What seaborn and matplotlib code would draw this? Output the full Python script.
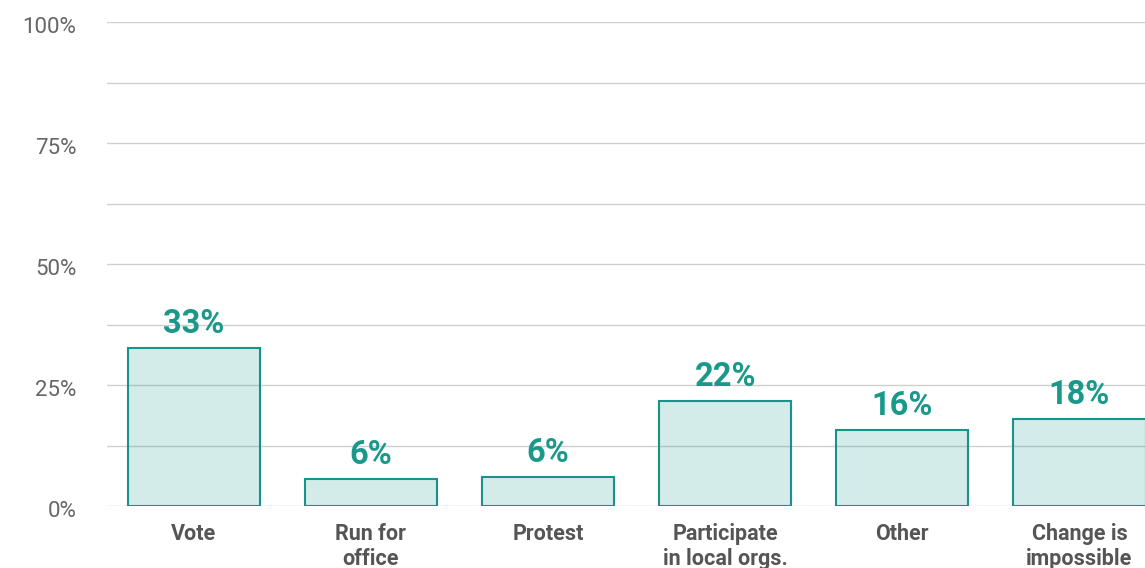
import numpy as np
import pandas as pd
import matplotlib
matplotlib.use('Agg')
import matplotlib.pyplot as plt
import matplotlib.transforms as mtransforms
import seaborn as sns
from matplotlib.ticker import MultipleLocator, FuncFormatter

# data
CATEGORIES = ['Vote', 'Run for\noffice', 'Protest', 'Participate\nin local orgs.',
              'Other', 'Change is\nimpossible']
SHARES = [32.6, 5.6, 6.0, 21.6, 15.6, 18.0]

TEAL = '#1a998b'
EDGE = '#16938a'
GRID = '#cfcfcf'

sns.set_theme(style='white')
plt.rcParams['font.family'] = ['Roboto', 'DejaVu Sans']

df = pd.DataFrame({'category': CATEGORIES, 'share': SHARES})

fig = plt.figure(figsize=(11.45, 5.68), dpi=100)
ax = fig.add_axes([107 / 1145, 62 / 568, 1038 / 1145, 484 / 568])

sns.barplot(data=df, x='category', y='share', ax=ax, color=TEAL,
            width=0.746, saturation=1)

for p in ax.patches:
    p.set_facecolor(matplotlib.colors.to_rgba(TEAL, 0.19))
    p.set_edgecolor(EDGE)
    p.set_linewidth(1.5)
    p.set_zorder(3)

ax.bar_label(ax.containers[0], labels=[f'{v:.0f}%' for v in SHARES],
             padding=6, fontsize=23.5, fontweight='bold', color=TEAL)

ax.set_ylim(0, 100)
ax.set_xlim(-0.49, 5.37)
ax.yaxis.set_major_locator(MultipleLocator(25))
ax.yaxis.set_minor_locator(MultipleLocator(12.5))
ax.yaxis.set_major_formatter(FuncFormatter(lambda v, _: f'{v:.0f}%'))
ax.grid(axis='y', which='both', color=GRID, linewidth=1, zorder=1)
ax.set_axisbelow(True)

ax.tick_params(axis='y', which='both', length=0, pad=22, labelsize=16,
               labelcolor='#666666')
ax.tick_params(axis='x', length=0, pad=12, labelsize=15.5, labelcolor='#555555')
for lbl in ax.get_xticklabels():
    lbl.set_fontweight('bold')
    lbl.set_linespacing(1.22)

# y labels sit a touch below their gridlines in the reference
shift = mtransforms.ScaledTranslation(0, -3 / 100, fig.dpi_scale_trans)
for lbl in ax.get_yticklabels():
    lbl.set_transform(lbl.get_transform() + shift)

ax.set_xlabel('')
ax.set_ylabel('')
sns.despine(ax=ax, left=True, bottom=True)

fig.savefig('out.png', dpi=100)
